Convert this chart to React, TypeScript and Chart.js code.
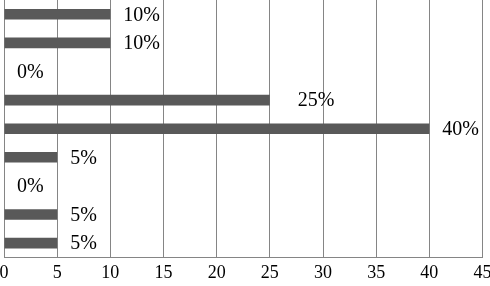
import React, { useEffect, useRef } from "react";
import { Chart, registerables } from "chart.js";

Chart.register(...registerables);

const categories = ["A", "B", "C", "D", "E", "F", "G", "H", "I"];
const values = [10, 10, 0, 25, 40, 5, 0, 5, 5];
const valueLabels = ["10%", "10%", "0%", "25%", "40%", "5%", "0%", "5%", "5%"];
const labelExtraOffset = [0, 0, 0, 15, 0, 0, 0, 0, 0];

const FONT = "'Liberation Serif', 'Times New Roman', serif";

const labelPlugin = {
  id: "valueLabels",
  afterDatasetsDraw(chart: any) {
    const ctx = chart.ctx;
    const meta = chart.getDatasetMeta(0);
    ctx.save();
    ctx.font = `20px ${FONT}`;
    ctx.fillStyle = "#000";
    ctx.textAlign = "left";
    ctx.textBaseline = "middle";
    meta.data.forEach((bar: any, i: number) => {
      const x = bar.x + 13 + (labelExtraOffset[i] || 0);
      ctx.fillText(valueLabels[i], x, bar.y + 1);
    });
    ctx.restore();
  },
};

export default function App() {
  const ref = useRef<HTMLCanvasElement | null>(null);
  useEffect(() => {
    document.body.style.margin = "0";
    const chart = new Chart(ref.current as HTMLCanvasElement, {
      type: "bar",
      data: {
        labels: categories,
        datasets: [
          {
            data: values,
            backgroundColor: "#595959",
            borderWidth: 0,
            barPercentage: 0.37,
            categoryPercentage: 1,
          },
        ],
      },
      options: {
        indexAxis: "y",
        animation: false,
        responsive: false,
        maintainAspectRatio: false,
        layout: { padding: { top: 0, bottom: -3, left: 0, right: 0 } },
        plugins: { legend: { display: false }, tooltip: { enabled: false } },
        scales: {
          x: {
            min: 0,
            max: 45,
            afterFit: (scale: any) => {
              scale.paddingLeft = 4;
              scale.paddingRight = 7.5;
            },
            ticks: {
              stepSize: 5,
              color: "#000",
              padding: 5,
              font: { family: FONT, size: 18 },
            },
            grid: { color: "#858585", lineWidth: 1, drawTicks: false },
            border: { color: "#858585", width: 1 },
          },
          y: {
            display: false,
          },
        },
      },
      plugins: [labelPlugin],
    });
    return () => chart.destroy();
  }, []);
  return (
    <div style={{ position: "absolute", left: 0, top: 0, width: 490, height: 286 }}>
      <canvas ref={ref} width={490} height={286} />
    </div>
  );
}
